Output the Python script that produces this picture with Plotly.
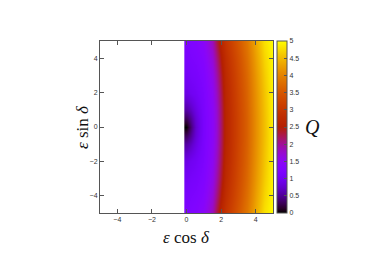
import math
import plotly.graph_objects as go

# grid coordinates (epsilon cos delta, epsilon sin delta)
x_vals = [0, 0.25, 0.5, 1, 1.5, 1.75, 2, 2.25, 2.5, 3, 3.5, 4, 4.5, 5]
y_vals = [-5, -4, -3, -2, -1, -0.5, 0, 0.5, 1, 2, 3, 4, 5]

# Q (rows follow y_vals)
q_y_m5 = [1.20, 1.25, 1.30, 1.45, 1.85, 2.27, 2.70, 2.95, 3.12, 3.52, 3.90, 4.35, 4.80, 5.00]
q_y_m4 = [1.14, 1.18, 1.22, 1.34, 1.71, 2.07, 2.52, 2.82, 3.00, 3.41, 3.81, 4.26, 4.71, 4.98]
q_y_m3 = [1.05, 1.10, 1.14, 1.26, 1.59, 1.92, 2.38, 2.74, 2.92, 3.34, 3.74, 4.19, 4.64, 4.97]
q_y_m2 = [0.90, 0.98, 1.05, 1.20, 1.51, 1.81, 2.28, 2.68, 2.86, 3.29, 3.69, 4.14, 4.59, 4.96]
q_y_m1 = [0.55, 0.68, 0.88, 1.16, 1.47, 1.74, 2.22, 2.64, 2.83, 3.26, 3.66, 4.11, 4.56, 4.95]
q_y_m05 = [0.30, 0.50, 0.80, 1.15, 1.45, 1.73, 2.21, 2.63, 2.82, 3.25, 3.65, 4.10, 4.55, 4.95]
q_y_0 = [0.00, 0.35, 0.75, 1.15, 1.45, 1.72, 2.20, 2.62, 2.82, 3.25, 3.65, 4.10, 4.55, 4.95]
q_y_p05 = [0.30, 0.50, 0.80, 1.15, 1.45, 1.73, 2.21, 2.63, 2.82, 3.25, 3.65, 4.10, 4.55, 4.95]
q_y_p1 = [0.55, 0.68, 0.88, 1.16, 1.47, 1.74, 2.22, 2.64, 2.83, 3.26, 3.66, 4.11, 4.56, 4.95]
q_y_p2 = [0.90, 0.98, 1.05, 1.20, 1.51, 1.81, 2.28, 2.68, 2.86, 3.29, 3.69, 4.14, 4.59, 4.96]
q_y_p3 = [1.05, 1.10, 1.14, 1.26, 1.59, 1.92, 2.38, 2.74, 2.92, 3.34, 3.74, 4.19, 4.64, 4.97]
q_y_p4 = [1.14, 1.18, 1.22, 1.34, 1.71, 2.07, 2.52, 2.82, 3.00, 3.41, 3.81, 4.26, 4.71, 4.98]
q_y_p5 = [1.20, 1.25, 1.30, 1.45, 1.85, 2.27, 2.70, 2.95, 3.12, 3.52, 3.90, 4.35, 4.80, 5.00]

q_rows = [q_y_m5, q_y_m4, q_y_m3, q_y_m2, q_y_m1, q_y_m05, q_y_0,
          q_y_p05, q_y_p1, q_y_p2, q_y_p3, q_y_p4, q_y_p5]

axis_ticks = [-4, -2, 0, 2, 4]
cbar_ticks = [0, 0.5, 1, 1.5, 2, 2.5, 3, 3.5, 4, 4.5, 5]
cbar_ticktext = ["0", "0.5", "1", "1.5", "2", "2.5", "3", "3.5", "4", "4.5", "5"]

# gnuplot default pm3d palette (rgbformulae 7,5,15)
def _pal(t):
    r = math.sqrt(t)
    g = t ** 3
    b = max(0.0, math.sin(2 * math.pi * t))
    return "rgb(%d,%d,%d)" % (round(255 * r), round(255 * g), round(255 * b))

colorscale = [[i / 40, _pal(i / 40)] for i in range(41)]

frame = "#555555"
tickfont = dict(family="Liberation Sans, Arial", size=7, color="#333333")

fig = go.Figure()
fig.add_trace(go.Heatmap(
    x=x_vals, y=y_vals, z=q_rows,
    zmin=0, zmax=5, zsmooth="best",
    colorscale=colorscale,
    colorbar=dict(
        x=1.023, xanchor="left", xref="paper",
        y=0.5, yanchor="middle", len=1, lenmode="fraction",
        thickness=10, thicknessmode="pixels",
        outlinecolor=frame, outlinewidth=1,
        tickmode="array", tickvals=cbar_ticks, ticktext=cbar_ticktext,
        ticks="inside", ticklen=3, tickcolor=frame,
        tickfont=tickfont, xpad=0, ypad=0,
    ),
))

fig.update_xaxes(
    range=[-5, 5], tickmode="array", tickvals=axis_ticks,
    ticks="inside", ticklen=4, tickcolor=frame,
    showline=True, linecolor=frame, linewidth=1, mirror="ticks",
    showgrid=False, zeroline=False, tickfont=tickfont,
)
fig.update_yaxes(
    range=[-5, 5], tickmode="array", tickvals=axis_ticks,
    ticks="inside", ticklen=4, tickcolor=frame,
    showline=True, linecolor=frame, linewidth=1, mirror="ticks",
    showgrid=False, zeroline=False, tickfont=tickfont,
)

titlefont = dict(family="Liberation Serif, Times New Roman, serif", size=17, color="#111111")
fig.add_annotation(text="<i>ε</i> cos <i>δ</i>", xref="paper", yref="paper",
                   x=0.5, y=0, yshift=-24, xanchor="center", yanchor="middle",
                   showarrow=False, font=titlefont)
fig.add_annotation(text="<i>ε</i> sin <i>δ</i>", xref="paper", yref="paper",
                   x=0, y=0.5, xshift=-18, xanchor="center", yanchor="middle",
                   textangle=-90, showarrow=False, font=titlefont)
fig.add_annotation(text="<i>Q</i>", xref="paper", yref="paper",
                   x=1, y=0.5, xshift=39, xanchor="center", yanchor="middle",
                   showarrow=False, font=dict(family="Liberation Serif, serif", size=20, color="#111111"))

fig.update_layout(
    width=366, height=254,
    margin=dict(l=92, r=101, t=33, b=49, autoexpand=False),
    paper_bgcolor="white", plot_bgcolor="white",
    showlegend=False,
)

fig.write_html("out.html")
